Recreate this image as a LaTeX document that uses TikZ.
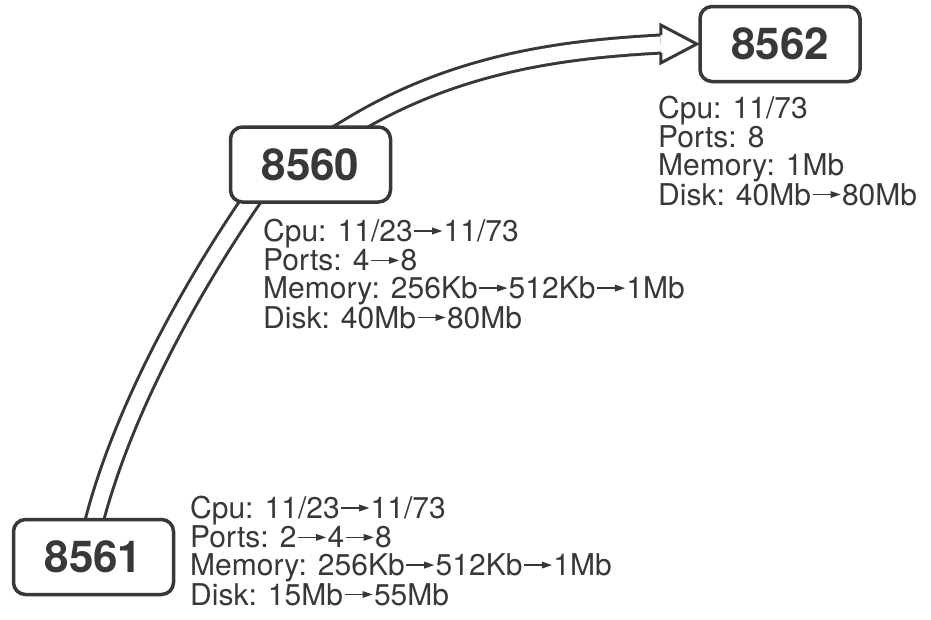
\documentclass[tikz,border=0pt]{standalone}
\usepackage{fontspec}
\setmainfont{TeX Gyre Heros}
\usetikzlibrary{arrows.meta,backgrounds}
\definecolor{ink}{HTML}{383838}
\newcommand{\tarr}{\kern1.5pt\tikz[baseline=0pt,x=1pt,y=1pt]{\fill[ink] (0,9.7) rectangle (20,11.3); \fill[ink] (18,7) -- (28,10.5) -- (18,14) -- cycle;}\kern1.5pt}
\begin{document}
\begin{tikzpicture}[x=1pt,y=-1pt,
  box/.style={draw=ink, line width=3.5pt, rounded corners=12pt, fill=white,
    minimum width=160pt, minimum height=75pt, inner sep=0pt, text=ink,
    font=\fontsize{44}{44}\selectfont\bfseries},
  info/.style={anchor=base west, inner sep=0pt, align=left, text=ink,
    font=\fontsize{30}{27.7}\selectfont},
  band/.style={draw=ink, line width=3pt, double=white, double distance=15pt},
  headline/.style={draw=ink, line width=3pt, line join=miter}]
\useasboundingbox (0,0) rectangle (931,619);

\node[box] (n61) at (93.5,557) {8561};
\node[box] (n60) at (310.5,164.5) {8560};
\node[box] (n62) at (780,44) {8562};

% info blocks: anchor base = baseline of the last line
\node[info] (t61) at (190,605) {Cpu: 11/23\tarr 11/73\\Ports: 2\tarr 4\tarr 8\\Memory: 256Kb\tarr 512Kb\tarr 1Mb\\Disk: 15Mb\tarr 55Mb};
\node[info] (t60) at (263,328) {Cpu: 11/23\tarr 11/73\\Ports: 4\tarr 8\\Memory: 256Kb\tarr 512Kb\tarr 1Mb\\Disk: 40Mb\tarr 80Mb};
\node[info] (t62) at (658,205) {Cpu: 11/73\\Ports: 8\\Memory: 1Mb\\Disk: 40Mb\tarr 80Mb};

\coordinate (tip) at ([xshift=-1.5pt]n62.west);
\coordinate (hb) at ([xshift=-36pt]tip);

\begin{scope}[on background layer]
\fill[white] (0,0) rectangle (931,619);
\draw[band] ([yshift=-6pt]n61.north) .. controls (122,412) and (190,290) .. (250,202)
  .. controls (272,170) and (324,143) .. (350,127)
  .. controls (460,60) and (572,49) .. (hb);
\end{scope}
\draw[headline] ([yshift=9pt]hb) -- ([yshift=19pt]hb) -- (tip) -- ([yshift=-19pt]hb) -- ([yshift=-9pt]hb);
\end{tikzpicture}
\end{document}
